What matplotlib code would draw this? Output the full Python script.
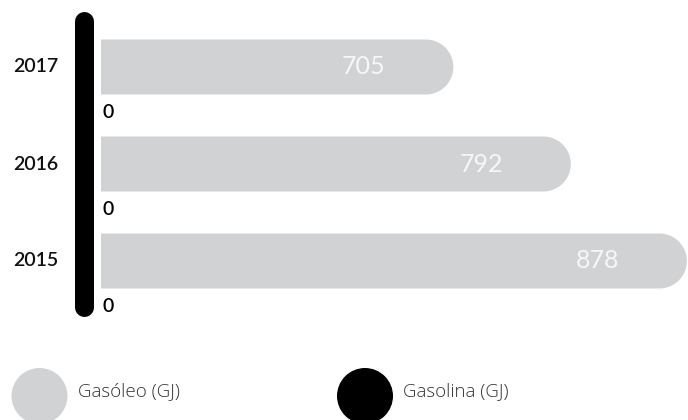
import matplotlib
matplotlib.use("Agg")
import numpy as np
import matplotlib.pyplot as plt
from matplotlib.patches import Polygon, Circle

# Energy consumption by fuel type (GJ)
years = ["2015", "2016", "2017"]
gasoleo = [878, 792, 705]
gasolina = [0, 0, 0]
legend_labels = ["Gasóleo (GJ)", "Gasolina (GJ)"]

GREY = "#d1d2d4"
BLACK = "#000000"
FONT = ["Lato", "DejaVu Sans"]
LIGHT_FONT = ["Open Sans", "DejaVu Sans"]

W, H = 688, 420
fig = plt.figure(figsize=(W / 100, H / 100), dpi=100)

# main bar axes (pixel layout)
ax_left, ax_right = 101, 688
ax_top, ax_bottom = 0, 340
ax = fig.add_axes([ax_left / W, 1 - ax_bottom / H,
                   (ax_right - ax_left) / W, (ax_bottom - ax_top) / H])
ax.set_axis_off()

px_per_unit_x = 1.35
x0 = 444
x1 = x0 + (ax_right - ax_left) / px_per_unit_x
ax.set_xlim(x0, x1)
px_per_unit_y = 97.0
ax.set_ylim(-79 / px_per_unit_y, 261 / px_per_unit_y)

bar_h = 55 / px_per_unit_y
rx = (bar_h / 2) * px_per_unit_y / px_per_unit_x  # half-height expressed in x units


def rounded_bar(y, value, height):
    """Bar from 0 to value with a semicircular right end."""
    t = np.linspace(-np.pi / 2, np.pi / 2, 60)
    cx = value - rx
    arc = np.column_stack([cx + rx * np.cos(t), y + (height / 2) * np.sin(t)])
    pts = np.vstack([[0, y - height / 2], arc, [0, y + height / 2]])
    return Polygon(pts, closed=True, facecolor=GREY, edgecolor="none")


ypos = list(range(len(years)))
for y, v, g, yr in zip(ypos, gasoleo, gasolina, years):
    ax.add_patch(rounded_bar(y, v, bar_h))
    ax.annotate(f"{v}", xy=(v, y), xytext=(-68 * 0.72, 0), textcoords="offset points",
                ha="right", va="center", color="#f7f7f7", fontsize=18,
                family=FONT)
    # gasolina value below each bar
    ax.text(0.002, y - 0.47, f"{g}", transform=ax.get_yaxis_transform(),
            ha="left", va="center", fontsize=14, color=BLACK, family=FONT,
            fontweight="semibold", clip_on=False)
    # year label
    ax.text(-43 / (ax_right - ax_left), y, yr, transform=ax.get_yaxis_transform(),
            ha="right", va="center", fontsize=14, color="#111111", family=FONT,
            fontweight="semibold", clip_on=False)

# black baseline for the gasolina series
ax.plot([-17.5 / (ax_right - ax_left)] * 2, [2.474, -0.474],
        transform=ax.get_yaxis_transform(), color=BLACK, lw=19 * 0.72,
        solid_capstyle="round", clip_on=False)

# legend drawn in pixel space
lax = fig.add_axes([0, 0, 1, 1])
lax.set_xlim(0, W)
lax.set_ylim(H, 0)
lax.set_axis_off()
lax.add_patch(Circle((39.5, 396), 28, facecolor=GREY, edgecolor="none"))
lax.text(78, 391, legend_labels[0], ha="left", va="center", fontsize=13.5,
         color="#333333", family=LIGHT_FONT, fontweight="light")
lax.add_patch(Circle((365, 396), 28, facecolor=BLACK, edgecolor="none"))
lax.text(403, 391, legend_labels[1], ha="left", va="center", fontsize=13.5,
         color="#333333", family=LIGHT_FONT, fontweight="light")

fig.savefig("out.png", dpi=100, facecolor="white")
